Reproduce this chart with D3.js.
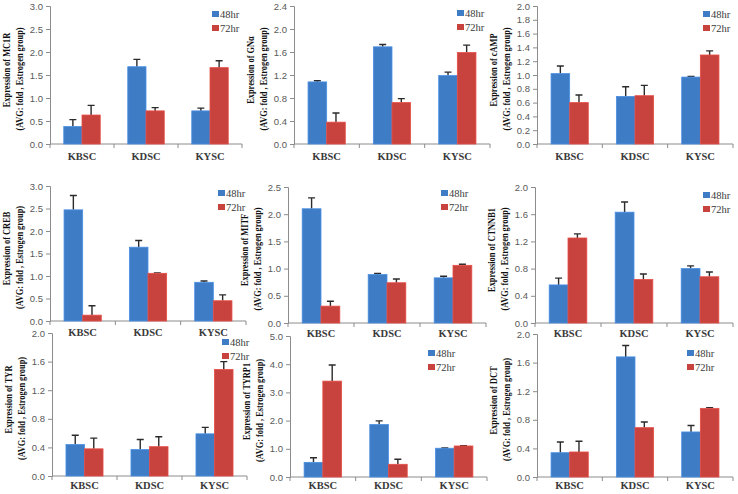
<!DOCTYPE html>
<html lang="en">

<head>
  <meta charset="UTF-8">
  <title>Gene expression 48hr vs 72hr</title>
  <script src="https://d3js.org/d3.v7.min.js"></script>
  <style>
    body {
      margin: 0;
      background: #fff;
    }

    .tick-label {
      font-family: "Liberation Sans", Arial, sans-serif;
      font-size: 9.5px;
      fill: #595959;
    }

    .cat-label {
      font-family: "Liberation Serif", "Times New Roman", serif;
      font-weight: bold;
      font-size: 10.5px;
      fill: #3a3a3a;
    }

    .legend-label {
      font-family: "Liberation Serif", "Times New Roman", serif;
      font-size: 10.5px;
      fill: #3a3a3a;
    }

    .y-title {
      font-family: "Liberation Serif", "Times New Roman", serif;
      font-weight: bold;
      font-size: 11px;
      fill: #111;
    }
  </style>
</head>

<body>
  <div id="chart"></div>

  <script>
    // data
    const categories = ["KBSC", "KDSC", "KYSC"];
    const series = ["48hr", "72hr"];
    const genes = ["MC1R", "GNα", "cAMP", "CREB", "MITF", "CTNNB1", "TYR", "TYRP1", "DCT"];
    const yMax = [3.0, 2.4, 2.0, 3.0, 2.5, 2.0, 2.0, 5.0, 2.0];
    const yStep = [0.5, 0.4, 0.2, 0.5, 0.5, 0.4, 0.4, 1.0, 0.4];

    const mean48 = [
      [0.38, 1.68, 0.72], [1.08, 1.69, 1.19], [1.02, 0.69, 0.97],
      [2.47, 1.64, 0.86], [2.10, 0.89, 0.83], [0.56, 1.63, 0.80],
      [0.44, 0.37, 0.59], [0.52, 1.86, 1.02], [0.34, 1.68, 0.63]
    ];
    const err48 = [
      [0.15, 0.16, 0.06], [0.02, 0.04, 0.06], [0.11, 0.14, 0.01],
      [0.32, 0.15, 0.03], [0.20, 0.02, 0.03], [0.10, 0.15, 0.04],
      [0.13, 0.14, 0.09], [0.16, 0.13, 0.01], [0.15, 0.16, 0.09]
    ];
    const mean72 = [
      [0.63, 0.72, 1.66], [0.38, 0.72, 1.59], [0.60, 0.70, 1.29],
      [0.13, 1.06, 0.45], [0.31, 0.74, 1.06], [1.25, 0.64, 0.68],
      [0.38, 0.41, 1.49], [3.40, 0.45, 1.10], [0.35, 0.69, 0.96]
    ];
    const err72 = [
      [0.21, 0.07, 0.15], [0.16, 0.07, 0.13], [0.11, 0.15, 0.06],
      [0.21, 0.01, 0.13], [0.09, 0.07, 0.02], [0.06, 0.08, 0.07],
      [0.15, 0.14, 0.11], [0.57, 0.18, 0.01], [0.15, 0.08, 0.01]
    ];

    const colors = { "48hr": "#3f7cc6", "72hr": "#c8433d" };

    // panel layout: axis x, top y, zero y, plot width, legend dx, legend dy, label dy
    const layout = [
      [50, 6, 144, 192, 162, 8, 16], [294, 6, 144, 196, 163, 7, 16], [537, 6, 144, 196, 166, 8, 16],
      [50, 186, 321, 196, 168, 7, 15], [288, 187, 323, 198, 153, 6, 14], [535, 187, 323, 198, 168, 8, 14],
      [52, 333, 476, 195, 170, 9, 13], [290, 336, 477, 197, 138, 17, 12], [537, 334, 477, 196, 150, 19, 12]
    ];

    const svg = d3.select("#chart").append("svg")
      .attr("width", 738)
      .attr("height", 494);

    genes.forEach((gene, i) => {
      const [ax, top, zero, w, lx, ly, cy] = layout[i];
      const g = svg.append("g").attr("transform", `translate(${ax},0)`);

      const x0 = d3.scaleBand().domain(categories).range([0, w])
        .paddingInner(0.43).paddingOuter(0.215);
      const x1 = d3.scaleBand().domain(series).range([0, x0.bandwidth()]);
      const y = d3.scaleLinear().domain([0, yMax[i]]).range([zero, top]);

      const rows = categories.map((c, j) => ({
        cat: c,
        vals: [
          { s: "48hr", v: mean48[i][j], e: err48[i][j] },
          { s: "72hr", v: mean72[i][j], e: err72[i][j] }
        ]
      }));

      // y axis
      const ticks = d3.range(0, yMax[i] + yStep[i] / 2, yStep[i]);
      const yAxis = g.append("g")
        .call(d3.axisLeft(y).tickValues(ticks).tickSize(4).tickFormat(d3.format(".1f")));
      yAxis.select(".domain").attr("stroke", "#8c8c8c");
      yAxis.selectAll(".tick line").attr("stroke", "#8c8c8c");
      yAxis.selectAll(".tick text").attr("class", "tick-label").attr("x", -7)
        .attr("font-family", null).attr("font-size", null).attr("fill", null);

      // x axis with ticks on category boundaries
      g.append("line")
        .attr("x1", 0).attr("x2", w)
        .attr("y1", zero).attr("y2", zero)
        .attr("stroke", "#8c8c8c");
      const step = x0.step();
      const bounds = d3.range(0, 4).map(k => k * step);
      g.selectAll(".xtick").data(bounds).enter().append("line")
        .attr("x1", d => Math.min(d, w)).attr("x2", d => Math.min(d, w))
        .attr("y1", zero).attr("y2", zero + 4)
        .attr("stroke", "#8c8c8c");

      g.selectAll(".cat-label").data(categories).enter().append("text")
        .attr("class", "cat-label")
        .attr("x", d => x0(d) + x0.bandwidth() / 2)
        .attr("y", zero + cy)
        .attr("text-anchor", "middle")
        .text(d => d);

      // bars
      const grp = g.selectAll(".grp").data(rows).enter().append("g")
        .attr("transform", d => `translate(${x0(d.cat)},0)`);

      grp.selectAll("line.err").data(d => d.vals).enter().append("path")
        .attr("d", d => {
          const cx = x1(d.s) + x1.bandwidth() / 2;
          const yt = y(d.v + d.e);
          return `M${cx},${y(d.v)}V${yt}M${cx - 3.5},${yt}H${cx + 3.5}`;
        })
        .attr("stroke", "#2b2b2b")
        .attr("stroke-width", 1.4)
        .attr("fill", "none");

      grp.selectAll("rect").data(d => d.vals).enter().append("rect")
        .attr("x", d => x1(d.s))
        .attr("width", x1.bandwidth())
        .attr("y", d => y(d.v))
        .attr("height", d => zero - y(d.v))
        .attr("fill", d => colors[d.s])
        .attr("stroke", d => d3.color(colors[d.s]).brighter(0.4))
        .attr("stroke-width", 0.8);

      // legend
      const leg = g.append("g").attr("transform", `translate(${lx},${top + ly})`);
      series.forEach((s, k) => {
        leg.append("rect")
          .attr("x", 0).attr("y", k * 14 - 3)
          .attr("width", 7).attr("height", 6)
          .attr("fill", colors[s]);
        leg.append("text")
          .attr("class", "legend-label")
          .attr("x", 8).attr("y", k * 14 + 3.5)
          .text(s);
      });

      // y title (two lines, compressed)
      const mid = (top + zero) / 2;
      g.append("text")
        .attr("class", "y-title")
        .attr("transform", `translate(-40,${mid - 5}) rotate(-90) scale(0.76,1)`)
        .attr("text-anchor", "middle")
        .text(`Expression of ${gene}`);
      g.append("text")
        .attr("class", "y-title")
        .attr("transform", `translate(-27,${mid + 4}) rotate(-90) scale(0.76,1)`)
        .attr("text-anchor", "middle")
        .text("(AVG: fold , Estrogen group)");
    });
  </script>
</body>

</html>
